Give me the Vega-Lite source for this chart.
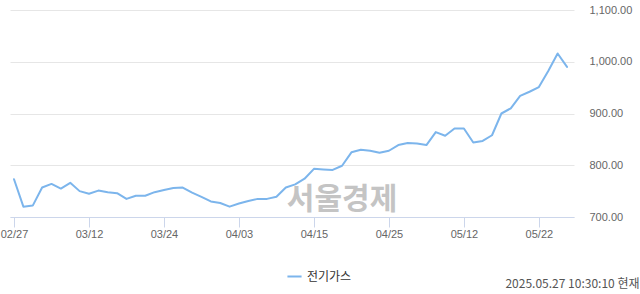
{
  "$schema": "https://vega.github.io/schema/vega-lite/v6.json",
  "width": 564,
  "height": 207,
  "autosize": {"type": "none"},
  "padding": {"left": 10, "top": 10, "right": 66, "bottom": 77},
  "background": "white",
  "config": {
    "view": {"stroke": null},
    "font": "Liberation Sans"
  },
  "layer": [
    {
      "data": {
        "values": [
          {"d": "02/27", "v": 773, "s": "전기가스"},
          {"d": "02/28", "v": 720, "s": "전기가스"},
          {"d": "03/04", "v": 722, "s": "전기가스"},
          {"d": "03/05", "v": 757, "s": "전기가스"},
          {"d": "03/06", "v": 764, "s": "전기가스"},
          {"d": "03/07", "v": 755, "s": "전기가스"},
          {"d": "03/10", "v": 766, "s": "전기가스"},
          {"d": "03/11", "v": 750, "s": "전기가스"},
          {"d": "03/12", "v": 745, "s": "전기가스"},
          {"d": "03/13", "v": 751, "s": "전기가스"},
          {"d": "03/14", "v": 748, "s": "전기가스"},
          {"d": "03/17", "v": 746, "s": "전기가스"},
          {"d": "03/18", "v": 735, "s": "전기가스"},
          {"d": "03/19", "v": 741, "s": "전기가스"},
          {"d": "03/20", "v": 741, "s": "전기가스"},
          {"d": "03/21", "v": 748, "s": "전기가스"},
          {"d": "03/24", "v": 752, "s": "전기가스"},
          {"d": "03/25", "v": 756, "s": "전기가스"},
          {"d": "03/26", "v": 757, "s": "전기가스"},
          {"d": "03/27", "v": 747, "s": "전기가스"},
          {"d": "03/28", "v": 739, "s": "전기가스"},
          {"d": "03/31", "v": 730, "s": "전기가스"},
          {"d": "04/01", "v": 727, "s": "전기가스"},
          {"d": "04/02", "v": 720, "s": "전기가스"},
          {"d": "04/03", "v": 726, "s": "전기가스"},
          {"d": "04/04", "v": 731, "s": "전기가스"},
          {"d": "04/07", "v": 735, "s": "전기가스"},
          {"d": "04/08", "v": 735, "s": "전기가스"},
          {"d": "04/09", "v": 739, "s": "전기가스"},
          {"d": "04/10", "v": 757, "s": "전기가스"},
          {"d": "04/11", "v": 763, "s": "전기가스"},
          {"d": "04/14", "v": 774, "s": "전기가스"},
          {"d": "04/15", "v": 793, "s": "전기가스"},
          {"d": "04/16", "v": 792, "s": "전기가스"},
          {"d": "04/17", "v": 791, "s": "전기가스"},
          {"d": "04/18", "v": 799, "s": "전기가스"},
          {"d": "04/21", "v": 825, "s": "전기가스"},
          {"d": "04/22", "v": 830, "s": "전기가스"},
          {"d": "04/23", "v": 828, "s": "전기가스"},
          {"d": "04/24", "v": 824, "s": "전기가스"},
          {"d": "04/25", "v": 828, "s": "전기가스"},
          {"d": "04/28", "v": 839, "s": "전기가스"},
          {"d": "04/29", "v": 843, "s": "전기가스"},
          {"d": "04/30", "v": 842, "s": "전기가스"},
          {"d": "05/02", "v": 839, "s": "전기가스"},
          {"d": "05/07", "v": 864, "s": "전기가스"},
          {"d": "05/08", "v": 857, "s": "전기가스"},
          {"d": "05/09", "v": 871, "s": "전기가스"},
          {"d": "05/12", "v": 871, "s": "전기가스"},
          {"d": "05/13", "v": 844, "s": "전기가스"},
          {"d": "05/14", "v": 847, "s": "전기가스"},
          {"d": "05/15", "v": 858, "s": "전기가스"},
          {"d": "05/16", "v": 900, "s": "전기가스"},
          {"d": "05/19", "v": 910, "s": "전기가스"},
          {"d": "05/20", "v": 934, "s": "전기가스"},
          {"d": "05/21", "v": 942, "s": "전기가스"},
          {"d": "05/22", "v": 951, "s": "전기가스"},
          {"d": "05/23", "v": 982, "s": "전기가스"},
          {"d": "05/26", "v": 1016, "s": "전기가스"},
          {"d": "05/27", "v": 990, "s": "전기가스"}
        ]
      },
      "mark": {"type": "line", "strokeWidth": 2, "strokeJoin": "round", "strokeCap": "round"},
      "encoding": {
        "x": {
          "field": "d",
          "type": "ordinal",
          "sort": null,
          "scale": {"type": "point", "padding": 0.587, "align": 0.364},
          "axis": {
            "title": "2025.05.27 10:30:10 현재",
            "titleX": 629,
            "titleY": 66,
            "titleAlign": "right",
            "titleAnchor": "end",
            "titleBaseline": "middle",
            "titleFont": "Noto Sans CJK KR",
            "titleFontSize": 12,
            "titleFontWeight": "normal",
            "titleColor": "#555555",
            "values": ["02/27", "03/12", "03/24", "04/03", "04/15", "04/25", "05/12", "05/22"],
            "labelAngle": 0,
            "labelFont": "Liberation Sans",
            "labelFontSize": 11,
            "labelColor": "#666666",
            "domainColor": "#ccd6eb",
            "tickColor": "#ccd6eb",
            "tickSize": 10,
            "labelPadding": 1,
            "grid": false
          }
        },
        "y": {
          "field": "v",
          "type": "quantitative",
          "scale": {"domain": [700, 1100], "nice": false, "zero": false},
          "axis": {
            "orient": "right",
            "title": null,
            "values": [700, 800, 900, 1000, 1100],
            "format": ",.2f",
            "labelAlign": "left",
            "labelPadding": 15,
            "labelFont": "Liberation Sans",
            "labelFontSize": 11,
            "labelColor": "#666666",
            "domain": false,
            "ticks": false,
            "grid": true,
            "gridColor": "#e6e6e6"
          }
        },
        "color": {
          "field": "s",
          "type": "nominal",
          "scale": {"range": ["#7cb5ec"]},
          "legend": {
            "title": null,
            "orient": "none",
            "legendX": 276,
            "legendY": 258,
            "symbolType": "stroke",
            "symbolStrokeWidth": 2,
            "symbolSize": 200,
            "labelFont": "Noto Sans CJK KR",
            "labelFontSize": 12,
            "labelColor": "#333333"
          }
        }
      }
    },
    {
      "data": {"values": [{"d": "04/18", "v": 733, "t": "서울경제"}]},
      "mark": {"type": "text", "font": "Noto Sans CJK KR", "fontSize": 30, "fontWeight": "bold", "color": "#c4c4c4", "baseline": "middle", "align": "center"},
      "encoding": {
        "x": {"field": "d", "type": "ordinal", "sort": null},
        "y": {"field": "v", "type": "quantitative"},
        "text": {"field": "t"}
      }
    }
  ]
}
